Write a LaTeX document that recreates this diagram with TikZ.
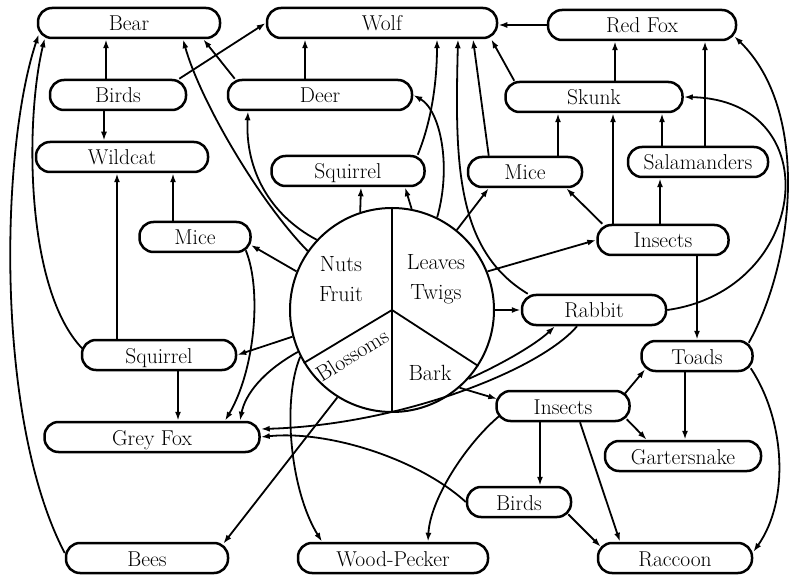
\documentclass[tikz,border=0pt]{standalone}
\usepackage{tikz}
\usetikzlibrary{arrows.meta, positioning, calc}

\begin{document}
\begin{tikzpicture}[
        x=1pt, y=-1pt,
        >={Latex[length=9pt,width=6pt]},
        animalNode/.style={
            draw,
            line width=2.5pt,
            rounded corners=14pt,
            minimum height=30pt,
            inner sep=2pt,
            text height=17pt,
            text depth=1pt,
            font=\fontsize{21.5}{24}\selectfont
        },
        pieText/.style={
            align=center,
            font=\fontsize{22}{30}\selectfont
        },
        eatArrow/.style={
            ->,
            line width=1.8pt
        }
    ]
    \useasboundingbox (0,0) rectangle (795,577);

    % Animals (explicit positions, traced row by row)
    \node[animalNode, minimum width=182pt] (bear) at (129,23) {Bear};
    \node[animalNode, minimum width=230pt] (wolf) at (382,23) {Wolf};
    \node[animalNode, minimum width=188pt] (redfox) at (642,25) {Red Fox};

    \node[animalNode, minimum width=136pt] (birds) at (118,95) {Birds};
    \node[animalNode, minimum width=184pt] (deer) at (320,95) {Deer};
    \node[animalNode, minimum width=177pt] (skunk) at (594,97) {Skunk};

    \node[animalNode, minimum width=172pt] (wildcat) at (122,157) {Wildcat};
    \node[animalNode, minimum width=153pt] (squirrel) at (348,171) {Squirrel};
    \node[animalNode, minimum width=114pt] (mice) at (525,172) {Mice};
    \node[animalNode, minimum width=140pt] (salamanders) at (698,162) {Salamanders};

    \node[animalNode, minimum width=111pt] (mice2) at (195,237) {Mice};
    \node[animalNode, minimum width=131pt] (insects) at (663,240) {Insects};
    \node[animalNode, minimum width=144pt] (rabbit) at (594,310) {Rabbit};

    \node[animalNode, minimum width=154pt] (squirrel2) at (159,355) {Squirrel};
    \node[animalNode, minimum width=111pt] (toads) at (697,356) {Toads};
    \node[animalNode, minimum width=133pt] (insects2) at (563,406) {Insects};
    \node[animalNode, minimum width=215pt] (greyfox) at (152,437) {Grey Fox};
    \node[animalNode, minimum width=156pt] (gartersnake) at (683,456) {Gartersnake};
    \node[animalNode, minimum width=104pt] (birds2) at (519,502) {Birds};

    \node[animalNode, minimum width=162pt] (bees) at (147,558) {Bees};
    \node[animalNode, minimum width=190pt] (woodpecker) at (393,558) {Wood-Pecker};
    \node[animalNode, minimum width=154pt] (raccoon) at (675,558) {Raccoon};

    % Plant food pie
    \node[draw, circle, line width=2pt, minimum size=204pt, inner sep=0pt] (food) at (392,310) {};
    \draw[line width=1.8pt] (food.north) -- (food.south);
    \draw[line width=1.8pt] (food.center) -- (food.211);
    \draw[line width=1.8pt] (food.center) -- (food.327);
    \node[pieText] (nuts) at (341,279) {Nuts\\Fruit};
    \node[pieText] (leaves) at (436,279) {Leaves\\Twigs};
    \node[pieText] (bark) at (430,373) {Bark};
    \node[pieText, rotate=32] (blossoms) at (352,355) {Blossoms};

    % Connections (arrow points to the one that eats)
    \draw[eatArrow] ([xshift=-12pt]birds.north) -- ([xshift=-23pt]bear.south);
    \draw[eatArrow] ([xshift=-14pt]birds.south) -- ([xshift=-18pt]wildcat.north);
    \draw[eatArrow] ([xshift=-8pt]birds.north east) -- (wolf.west);
    \draw[eatArrow] ([xshift=8pt]deer.north west) -- ([xshift=-18pt]bear.south east);
    \draw[eatArrow] ([xshift=-15pt]deer.north) -- ([xshift=-77pt]wolf.south);

    \draw[eatArrow] (food.145) .. controls (258,200) and (200,100) .. ([xshift=54pt]bear.south);
    \draw[eatArrow] (food.137) .. controls (270,215) and (245,170) .. ([xshift=-72pt]deer.south);
    \draw[eatArrow] (food.108) -- ([xshift=13pt]squirrel.south);
    \draw[eatArrow] (food.79) -- ([xshift=57pt]squirrel.south);
    \draw[eatArrow] ([xshift=-8pt]squirrel.north east) .. controls (432,120) and (437,80) .. ([xshift=55pt]wolf.south);
    \draw[eatArrow] (food.64) .. controls (452,165) and (440,110) .. (deer.east);
    \draw[eatArrow] ([xshift=7pt]rabbit.north west) .. controls (455,250) and (455,160) .. ([xshift=76pt]wolf.south);
    \draw[eatArrow] ([xshift=22pt]mice.north west) -- ([xshift=91pt]wolf.south);
    \draw[eatArrow] ([xshift=10pt]skunk.north west) -- ([xshift=-7pt]wolf.south east);
    \draw[eatArrow] (redfox.west) -- (redfox.west -| wolf.east);

    \draw[eatArrow] ([xshift=21pt]skunk.north) -- ([xshift=-27pt]redfox.south);
    \draw[eatArrow] ([xshift=7pt]salamanders.north) -- ([xshift=63pt]redfox.south);
    \draw[eatArrow] ([xshift=-36pt]salamanders.north) -- ([xshift=68pt]skunk.south);
    \draw[eatArrow] ([xshift=33pt]mice.north) -- ([xshift=-36pt]skunk.south);
    \draw[eatArrow] ([xshift=-50pt]insects.north) -- ([xshift=19pt]skunk.south);
    \draw[eatArrow] ([xshift=-3pt]insects.north) -- ([xshift=-38pt]salamanders.south);
    \draw[eatArrow] ([xshift=6pt]insects.north west) -- ([xshift=-17pt]mice.south east);
    \draw[eatArrow] ([xshift=34pt]insects.south) -- (toads.north);
    \draw[eatArrow] (food.22) -- (insects.west);
    \draw[eatArrow] (food.east) -- (rabbit.west);
    \draw[eatArrow] (food.51) -- ([xshift=22pt]mice.south west);

    \draw[eatArrow] ([xshift=-5pt,yshift=-3pt]toads.north east) .. controls (795,260) and (810,110) .. ([xshift=-3pt,yshift=5pt]redfox.south east);
    \draw[eatArrow] (rabbit.east) .. controls (810,290) and (830,100) .. (skunk.east);
    \draw[eatArrow] ([xshift=-3pt,yshift=4pt]toads.south east) .. controls (785,420) and (790,500) .. ([yshift=6pt]raccoon.east);
    \draw[eatArrow] ([xshift=-12pt]toads.south) -- ([xshift=2pt]gartersnake.north);

    \draw[eatArrow] ([xshift=-6pt,yshift=-4pt]insects2.north east) -- ([xshift=5pt,yshift=3pt]toads.south west);
    \draw[eatArrow] ([xshift=-4pt,yshift=3pt]insects2.south east) -- ([xshift=43pt]gartersnake.north west);
    \draw[eatArrow] ([xshift=-23pt]insects2.south) -- ([xshift=21pt]birds2.north);
    \draw[eatArrow] ([xshift=17pt]insects2.south) -- ([xshift=-55pt]raccoon.north);
    \draw[eatArrow] ([xshift=-4pt,yshift=4pt]birds2.south east) -- ([xshift=4pt,yshift=-5pt]raccoon.north west);
    \draw[eatArrow] ([xshift=4pt,yshift=-10pt]insects2.west) .. controls (465,445) and (430,500) .. ([xshift=35pt]woodpecker.north);
    \draw[eatArrow] (birds2.west) .. controls (420,460) and (330,430) .. (greyfox.east);
    \draw[eatArrow] ([xshift=-17pt]rabbit.south) .. controls (540,370) and (400,425) .. ([yshift=8pt]greyfox.east);
    \draw[eatArrow] (food.318) .. controls (500,365) and (535,345) .. ([xshift=-39pt]rabbit.south);
    \draw[eatArrow] (food.311) -- ([xshift=2pt,yshift=7pt]insects2.west);

    \draw[eatArrow] (food.238) -- ([xshift=-6pt,yshift=-2pt]bees.north east);
    \draw[eatArrow] (food.207) .. controls (282,400) and (290,490) .. ([xshift=-71pt]woodpecker.north);
    \draw[eatArrow] (food.204) .. controls (262,372) and (245,395) .. ([xshift=88pt]greyfox.north);
    \draw[eatArrow] ([xshift=-6pt,yshift=3pt]mice2.south east) .. controls (262,290) and (255,370) .. ([xshift=73pt]greyfox.north);
    \draw[eatArrow] (food.158) -- ([xshift=-1pt,yshift=-8pt]mice2.east);
    \draw[eatArrow] (food.195) -- (squirrel2.east);

    \draw[eatArrow] ([xshift=-22pt]mice2.north) -- ([xshift=51pt]wildcat.south);
    \draw[eatArrow] ([xshift=-42pt]squirrel2.north) -- ([xshift=-5pt]wildcat.south);
    \draw[eatArrow] ([xshift=19pt]squirrel2.south) -- ([xshift=26pt]greyfox.north);
    \draw[eatArrow] ([xshift=2pt,yshift=6pt]squirrel2.west) .. controls (25,290) and (25,120) .. ([xshift=8pt,yshift=1pt]bear.south west);
    \draw[eatArrow] ([yshift=5pt]bees.west) .. controls (-5,420) and (0,150) .. ([xshift=2pt,yshift=5pt]bear.south west);

\end{tikzpicture}
\end{document}
